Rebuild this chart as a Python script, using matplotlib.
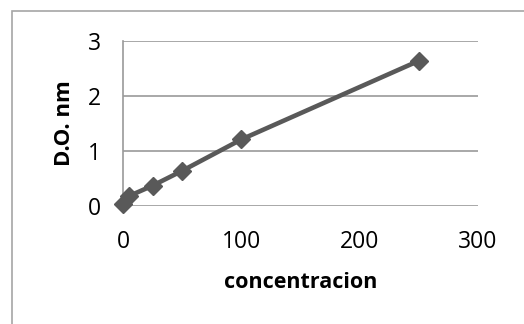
import matplotlib.pyplot as plt
import matplotlib.patches as patches

# concentration vs optical density
conc = [0, 5, 25, 50, 100, 250]
do_nm = [0.04, 0.18, 0.37, 0.64, 1.21, 2.64]

plt.rcParams['font.family'] = ['Open Sans', 'DejaVu Sans']

fig = plt.figure(figsize=(5.24, 3.24), dpi=100)
# outer chart frame (runs past the right/bottom edge)
fig.patches.append(patches.Rectangle((12/524, -0.1), 1.2, 1 - 11/324 + 0.1,
                                     transform=fig.transFigure, fill=False,
                                     edgecolor='#a6a6a6', linewidth=1.2))

ax = fig.add_axes([123/524, 1 - 206/324, (478 - 123)/524, (206 - 41)/324])
ax.plot(conc, do_nm, color='#595959', linewidth=3.3, marker='D', markersize=9,
        clip_on=False, zorder=3)

ax.set_xlim(0, 300)
ax.set_ylim(0, 3)
ax.set_xticks([0, 100, 200, 300])
ax.set_yticks([0, 1, 2, 3])
ax.grid(axis='y', color='#9a9a9a', linewidth=1.2)
ax.set_axisbelow(True)
for s in ['top', 'right', 'bottom']:
    ax.spines[s].set_visible(False)
ax.spines['left'].set_color('#9a9a9a')
ax.spines['left'].set_linewidth(1.2)
ax.tick_params(length=0, labelsize=16.5)
ax.tick_params(axis='y', pad=16)
ax.tick_params(axis='x', pad=17)

ax.set_xlabel('concentracion', fontsize=15.5, fontweight='bold', labelpad=13)
ax.set_ylabel('D.O. nm', fontsize=16, fontweight='bold', labelpad=9)

fig.savefig('out.png', dpi=100)
